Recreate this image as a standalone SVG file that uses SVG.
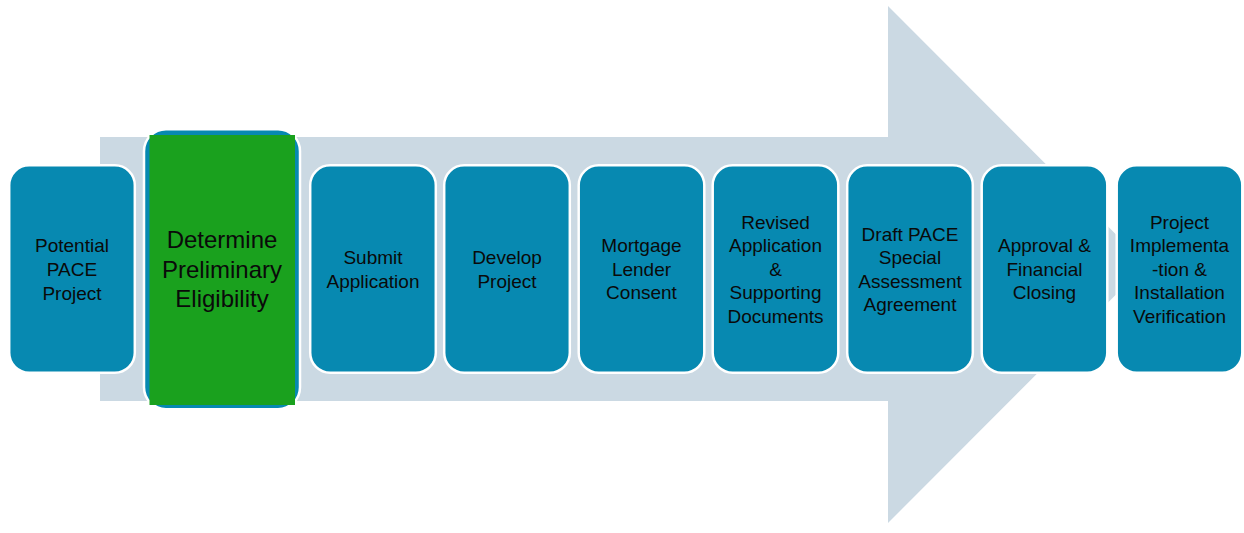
<svg xmlns="http://www.w3.org/2000/svg" width="1244" height="533" viewBox="0 0 1244 533">
<style>
.box{fill:#0789B1;stroke:#FFFFFF;stroke-width:2.5}
.t{font-family:"Liberation Sans",Arial,sans-serif;font-size:19px;fill:#0a0a0a;text-anchor:middle}
.tg{font-family:"Liberation Sans",Arial,sans-serif;font-size:24px;fill:#0a0a0a;text-anchor:middle}
</style>
<rect width="1244" height="533" fill="#FFFFFF"/>
<g id="connectors">
<path d="M100,137 H888 V6 L1146,264.5 L888,523 V401 H100 Z" fill="#CBD9E3"/>
</g>
<g id="n1">
<rect class="box" x="9.2" y="165.2" width="125.6" height="207.6" rx="20"/>
<text class="t"><tspan x="72" y="252">Potential</tspan><tspan x="72" y="276">PACE</tspan><tspan x="72" y="300">Project</tspan></text>
</g>
<g id="n2">
<rect class="box" x="144" y="129.2" width="156" height="280" rx="22"/>
<rect x="149.5" y="135" width="145.5" height="270" fill="#1AA11E"/>
<text class="tg"><tspan x="222" y="248">Determine</tspan><tspan x="222" y="278">Preliminary</tspan><tspan x="222" y="307">Eligibility</tspan></text>
</g>
<g id="n3">
<rect class="box" x="310.2" y="165.2" width="125.6" height="207.6" rx="20"/>
<text class="t"><tspan x="373" y="264">Submit</tspan><tspan x="373" y="287.5">Application</tspan></text>
</g>
<g id="n4">
<rect class="box" x="444.2" y="165.2" width="125.6" height="207.6" rx="20"/>
<text class="t"><tspan x="507" y="264">Develop</tspan><tspan x="507" y="287.5">Project</tspan></text>
</g>
<g id="n5">
<rect class="box" x="578.7" y="165.2" width="125.6" height="207.6" rx="20"/>
<text class="t"><tspan x="641.5" y="252">Mortgage</tspan><tspan x="641.5" y="275.5">Lender</tspan><tspan x="641.5" y="299">Consent</tspan></text>
</g>
<g id="n6">
<rect class="box" x="712.7" y="165.2" width="125.6" height="207.6" rx="20"/>
<text class="t"><tspan x="775.5" y="228.5">Revised</tspan><tspan x="775.5" y="252">Application</tspan><tspan x="775.5" y="275.5">&amp;</tspan><tspan x="775.5" y="299">Supporting</tspan><tspan x="775.5" y="322.5">Documents</tspan></text>
</g>
<g id="n7">
<rect class="box" x="847.2" y="165.2" width="125.6" height="207.6" rx="20"/>
<text class="t"><tspan x="910" y="240.5">Draft PACE</tspan><tspan x="910" y="264">Special</tspan><tspan x="910" y="287.5">Assessment</tspan><tspan x="910" y="311">Agreement</tspan></text>
</g>
<g id="n8">
<rect class="box" x="981.7" y="165.2" width="125.6" height="207.6" rx="20"/>
<text class="t"><tspan x="1044.5" y="252">Approval &amp;</tspan><tspan x="1044.5" y="275.5">Financial</tspan><tspan x="1044.5" y="299">Closing</tspan></text>
</g>
<g id="n9">
<rect class="box" x="1116.7" y="165.2" width="125.6" height="207.6" rx="20"/>
<text class="t"><tspan x="1179.5" y="228.5">Project</tspan><tspan x="1179.5" y="252">Implementa</tspan><tspan x="1179.5" y="275.5">-tion &amp;</tspan><tspan x="1179.5" y="299">Installation</tspan><tspan x="1179.5" y="322.5">Verification</tspan></text>
</g>
</svg>
